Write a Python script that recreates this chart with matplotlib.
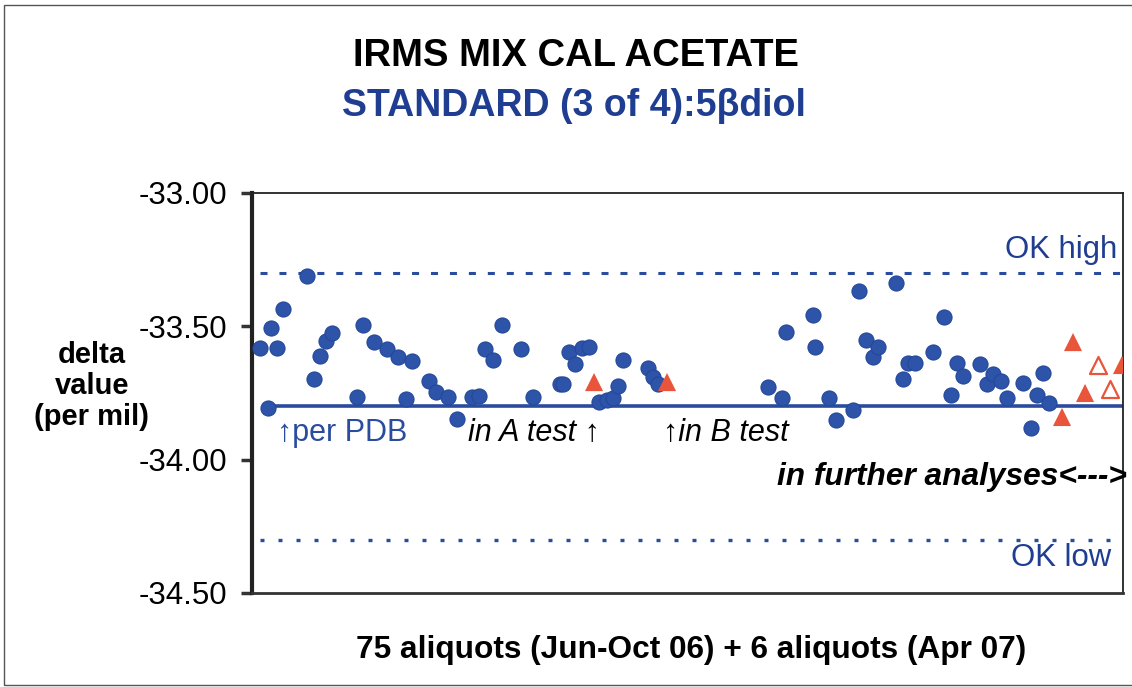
import matplotlib
matplotlib.use("Agg")
import matplotlib.pyplot as plt
from matplotlib.patches import Rectangle

plt.rcParams['font.family'] = ['Liberation Sans', 'DejaVu Sans']

# ---- data ----
blue_x = [0.92, 1.84, 2.18, 2.87, 3.56, 6.31, 7.12, 7.81, 8.50, 9.18,
          12.06, 12.74, 14.01, 15.50, 16.76, 17.68, 18.37, 20.32, 21.13, 22.50,
          23.54, 25.26, 26.06, 26.75, 27.67, 28.70, 30.88, 32.26, 35.36, 35.71,
          36.39, 37.08, 37.89, 38.69, 39.84, 40.76, 41.45, 42.02, 42.59, 45.46,
          46.04, 46.61, 59.24, 60.85, 61.31, 64.41, 64.64, 66.25, 67.05, 69.00,
          69.69, 70.49, 71.30, 71.87, 73.94, 74.74, 75.32, 76.12, 78.19, 79.45,
          80.25, 80.94, 81.63, 83.58, 84.39, 85.07, 85.99, 86.68, 88.52, 89.44,
          90.13, 90.82, 91.50]
blue_y = [-33.581, -33.806, -33.506, -33.581, -33.435, -33.311, -33.698, -33.611, -33.555, -33.525,
          -33.765, -33.495, -33.559, -33.585, -33.615, -33.773, -33.630, -33.705, -33.746, -33.765,
          -33.848, -33.765, -33.761, -33.585, -33.626, -33.495, -33.585, -33.765, -33.716, -33.716,
          -33.596, -33.641, -33.581, -33.578, -33.784, -33.776, -33.769, -33.724, -33.626, -33.656,
          -33.690, -33.716, -33.728, -33.769, -33.521, -33.458, -33.578, -33.769, -33.851, -33.814,
          -33.368, -33.551, -33.615, -33.578, -33.338, -33.698, -33.638, -33.638, -33.596, -33.465,
          -33.758, -33.638, -33.686, -33.641, -33.716, -33.679, -33.705, -33.769, -33.713, -33.881,
          -33.758, -33.675, -33.788]
red_x = [39.27, 47.65, 93.00, 94.26, 95.64, 99.89]
red_y = [-33.709, -33.709, -33.840, -33.559, -33.750, -33.645]
open_x = [97.13, 98.51]
open_y = [-33.645, -33.735]

ok_high = -33.30
ok_low = -34.30
mean_val = -33.80
y_ticks = [-33.00, -33.50, -34.00, -34.50]
y_tick_labels = ["-33.00", "-33.50", "-34.00", "-34.50"]

BLUE = "#2D54A8"
LINEBLUE = "#2A4C9E"
RED = "#E8553A"
TITLEBLUE = "#1F3E91"

fig = plt.figure(figsize=(11.32, 6.87), dpi=100)
fig.patch.set_facecolor("white")
# figure border
fig.patches.append(Rectangle((4/1132, 2/687), 1.2, 1 - 7/687, transform=fig.transFigure,
                             fill=False, edgecolor="#555555", linewidth=1.0))

ax = fig.add_axes([252/1132, 1 - 593/687, (1123 - 252)/1132, (593 - 193)/687])
ax.set_xlim(0, 100)
ax.set_ylim(-34.5, -33.0)

ax.plot([0.9, 100], [ok_high, ok_high], color=LINEBLUE, lw=2.2, linestyle=(0, (2.3, 3.9)))
ax.plot([0.9, 100], [ok_low, ok_low], color=LINEBLUE, lw=2.4, linestyle=(0, (1.2, 4.2)))
ax.plot([1.84, 100], [mean_val, mean_val], color=LINEBLUE, lw=2.6, solid_capstyle='butt')

ax.scatter(blue_x, blue_y, s=118, color=BLUE, edgecolors="#24489A", linewidths=0.8, zorder=3)
ax.scatter(red_x, red_y, s=170, marker='^', color=RED, edgecolors='none', zorder=4, clip_on=True)
ax.scatter(open_x, open_y, s=150, marker='^', facecolors='white', edgecolors=RED,
           linewidths=1.6, zorder=4)

ax.set_yticks(y_ticks)
ax.set_yticklabels(y_tick_labels, fontsize=22.5)
ax.set_xticks([])
ax.tick_params(axis='y', direction='out', length=8, width=2.5, color="#333333", pad=10)

for side in ['top', 'right']:
    ax.spines[side].set_linewidth(1.3)
    ax.spines[side].set_color("#222222")
ax.spines['left'].set_linewidth(3)
ax.spines['left'].set_color("#222222")
ax.spines['bottom'].set_linewidth(2)
ax.spines['bottom'].set_color("#333333")

# annotations
ax.text(2.87, -33.90, "\u2191per PDB", color=LINEBLUE, fontsize=22, ha='left', va='center')
ax.text(24.8, -33.90, "in A test \u2191", color="black", fontsize=22, style='italic',
        ha='left', va='center')
ax.text(47.2, -33.90, "\u2191in B test", color="black", fontsize=22, style='italic',
        ha='left', va='center')
ax.text(100.5, -34.065, "in further analyses<--->", color="black", fontsize=22.8,
        style='italic', weight='bold', ha='right', va='center', clip_on=False)
ax.text(99.3, -33.214, "OK high", color=TITLEBLUE, fontsize=22.4, ha='right', va='center')
ax.text(98.7, -34.369, "OK low", color=TITLEBLUE, fontsize=22.4, ha='right', va='center')

# titles and labels
fig.text(576/1132, 1 - 56/687, "IRMS MIX CAL ACETATE", fontsize=27.5, weight='bold',
         ha='center', va='center', color='black')
fig.text(574/1132, 1 - 106/687, "STANDARD (3 of 4):5\u03b2diol", fontsize=27, weight='bold',
         ha='center', va='center', color=TITLEBLUE)
fig.text(691/1132, 1 - 650/687, "75 aliquots (Jun-Oct 06) + 6 aliquots (Apr 07)",
         fontsize=22.8, weight='bold', ha='center', va='center', color='black')
fig.text(92/1132, 1 - 386/687, "delta\nvalue\n(per mil)", fontsize=21, weight='bold',
         ha='center', va='center', color='black', linespacing=1.15)

fig.savefig("out.png", dpi=100, facecolor="white")
